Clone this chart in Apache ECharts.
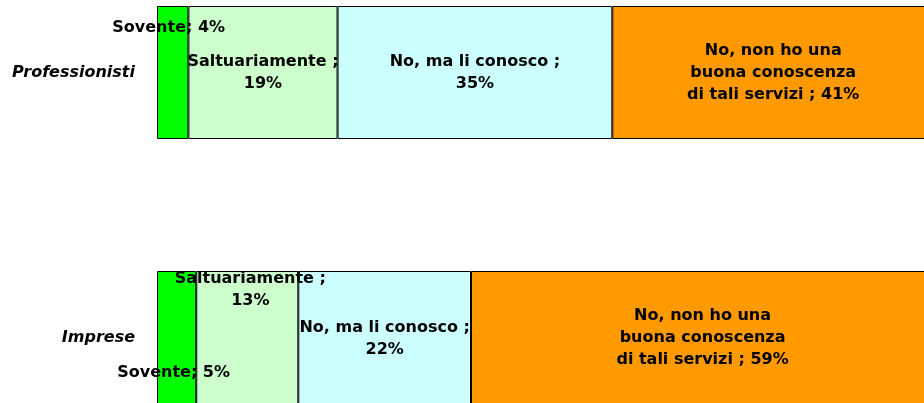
<!doctype html>
<html>
<head>
<meta charset="utf-8">
<title>Conoscenza dei servizi</title>
<script src="https://cdn.jsdelivr.net/npm/echarts@6/dist/echarts.min.js"></script>
<style>
    html,body{
        margin: 0;
        padding: 0;
        background: #fff;
    }
    #chart{
        width: 924px;
        height: 403px;
    }
</style>
</head>
<body>
<div id="chart"></div>
<script>
    var categories = ['Professionisti', 'Imprese'];
    var seriesNames = ['Sovente', 'Saltuariamente', 'No, ma li conosco', 'No, non ho una buona conoscenza di tali servizi'];
    var sovente = [4, 5];
    var saltuariamente = [19, 13];
    var conosco = [35, 22];
    var nonConosco = [41, 59];

    var colors = ['#00ff00', '#ccffcc', '#ccffff', '#ff9900'];
    var labelText = ['Sovente; {c}%', 'Saltuariamente ;\n{c}%', 'No, ma li conosco ;\n{c}%', 'No, non ho una\nbuona conoscenza\ndi tali servizi ; {c}%'];
    // spostamento delle etichette [professionisti, imprese]
    var labelOffsets = [
        [[-4, -45], [-3, 35]],
        [[0, 0], [3, -48]],
        [[0, 0], [0, 1]],
        [[0, 0], [0, 0]]
    ];

    var values = [sovente, saltuariamente, conosco, nonConosco];
    var series = values.map(function(arr, i){
        return {
            name: seriesNames[i],
            type: 'bar',
            stack: 'tot',
            barWidth: 133,
            itemStyle: { color: colors[i], borderColor: '#000', borderWidth: 1 },
            label: {
                show: true,
                position: 'inside',
                formatter: labelText[i],
                color: '#000',
                fontFamily: 'DejaVu Sans',
                fontWeight: 'bold',
                fontSize: 16,
                lineHeight: 22,
                align: 'center'
            },
            data: arr.map(function(v, j){
                return { value: v, label: { offset: labelOffsets[i][j] } };
            })
        };
    });

    var chart = echarts.init(document.getElementById('chart'));
    chart.setOption({
        animation: false,
        grid: { left: 157, top: -60, width: 785, height: 530, outerBoundsMode: 'none', containLabel: false },
        xAxis: { type: 'value', min: 0, max: 100, show: false },
        yAxis: {
            type: 'category',
            inverse: true,
            data: categories,
            axisLine: { show: false },
            axisTick: { show: false },
            splitLine: { show: false },
            axisLabel: {
                margin: 22,
                color: '#000',
                fontFamily: 'DejaVu Sans',
                fontStyle: 'italic',
                fontWeight: 'bold',
                fontSize: 16
            }
        },
        series: series
    });
</script>
</body>
</html>
